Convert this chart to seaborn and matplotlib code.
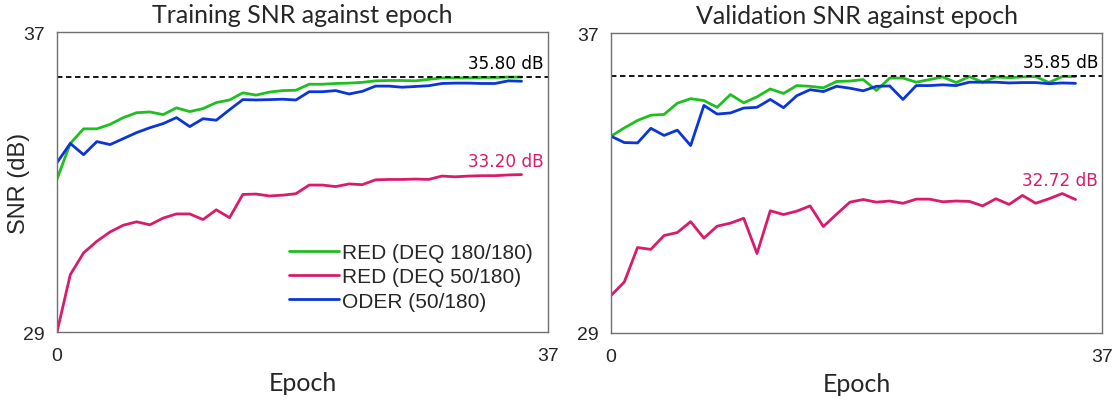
import numpy as np
import pandas as pd
import matplotlib
matplotlib.use("Agg")
import matplotlib.pyplot as plt
import seaborn as sns

# --- Data ---
epochs = list(range(36))

train_red180 = [33.08, 34.03, 34.42, 34.42, 34.54, 34.72, 34.85, 34.87, 34.80, 34.98,
                34.88, 34.96, 35.12, 35.19, 35.38, 35.32, 35.40, 35.44, 35.45, 35.61,
                35.61, 35.63, 35.64, 35.66, 35.70, 35.71, 35.71, 35.70, 35.74, 35.78,
                35.78, 35.78, 35.79, 35.79, 35.80, 35.80]
train_red50 = [29.00, 30.53, 31.11, 31.42, 31.67, 31.85, 31.94, 31.86, 32.04, 32.15,
               32.15, 32.00, 32.26, 32.05, 32.67, 32.68, 32.63, 32.65, 32.69, 32.92,
               32.92, 32.88, 32.95, 32.93, 33.06, 33.07, 33.07, 33.08, 33.07, 33.16,
               33.14, 33.16, 33.17, 33.17, 33.19, 33.20]
train_oder = [33.52, 34.03, 33.73, 34.08, 34.00, 34.16, 34.32, 34.45, 34.56, 34.72,
              34.48, 34.69, 34.65, 34.93, 35.20, 35.19, 35.20, 35.21, 35.19, 35.41,
              35.41, 35.44, 35.35, 35.42, 35.56, 35.56, 35.53, 35.55, 35.57, 35.63,
              35.64, 35.64, 35.63, 35.63, 35.70, 35.69]

val_red180 = [34.25, 34.47, 34.67, 34.81, 34.83, 35.13, 35.25, 35.20, 35.02, 35.36,
              35.14, 35.30, 35.51, 35.39, 35.60, 35.58, 35.54, 35.71, 35.72, 35.76,
              35.47, 35.80, 35.80, 35.69, 35.76, 35.83, 35.68, 35.84, 35.69, 35.83,
              35.81, 35.83, 35.84, 35.68, 35.84, 35.84]
val_red50 = [30.00, 30.36, 31.28, 31.23, 31.60, 31.68, 31.97, 31.53, 31.85, 31.93,
             32.06, 31.12, 32.26, 32.16, 32.25, 32.39, 31.84, 32.17, 32.49, 32.56,
             32.49, 32.52, 32.46, 32.57, 32.57, 32.50, 32.52, 32.51, 32.39, 32.58,
             32.43, 32.67, 32.46, 32.58, 32.72, 32.56]
val_oder = [34.25, 34.08, 34.07, 34.46, 34.27, 34.41, 34.00, 35.07, 34.84, 34.87,
            35.00, 35.02, 35.23, 35.01, 35.33, 35.49, 35.44, 35.58, 35.53, 35.46,
            35.58, 35.59, 35.23, 35.60, 35.60, 35.62, 35.60, 35.69, 35.69, 35.69,
            35.67, 35.68, 35.68, 35.65, 35.67, 35.66]

labels = ["RED (DEQ 180/180)", "RED (DEQ 50/180)", "ODER (50/180)"]
colors = ["#1fbf1f", "#d81b6a", "#0b35d6"]

ref_train, ref_val = 35.80, 35.85
end_train, end_val = 33.20, 32.72


def to_long(series):
    rows = []
    for name, vals in zip(labels, series):
        rows += [(e, v, name) for e, v in zip(epochs, vals)]
    return pd.DataFrame(rows, columns=["Epoch", "SNR", "Model"])


df_train = to_long([train_red180, train_red50, train_oder])
df_val = to_long([val_red180, val_red50, val_oder])

sns.set_style("white")
plt.rcParams["font.family"] = ["Liberation Sans", "DejaVu Sans"]

fig = plt.figure(figsize=(11.16, 4.02), dpi=100)
ax1 = fig.add_axes([0.0511, 0.1716, 0.440, 0.746])
ax2 = fig.add_axes([0.5475, 0.1692, 0.440, 0.746])

palette = dict(zip(labels, colors))
title_font = dict(family=["Lato", "DejaVu Sans"], size=18)
note_font = dict(family=["DejaVu Sans"], size=12.2)

for ax, df, title, ref, end in [(ax1, df_train, "Training SNR against epoch", ref_train, end_train),
                                (ax2, df_val, "Validation SNR against epoch", ref_val, end_val)]:
    sns.lineplot(data=df, x="Epoch", y="SNR", hue="Model", palette=palette,
                 linewidth=2.0, ax=ax, legend=(ax is ax1))
    ax.axhline(ref, color="black", linestyle=(0, (3, 2)), linewidth=1.3)
    ax.text(36.7, ref + 0.13, f"{ref:.2f} dB", ha="right", va="bottom", color="black", **note_font)
    ax.text(36.7, end + 0.13, f"{end:.2f} dB", ha="right", va="bottom", color=colors[1], **note_font)
    ax.set_xlim(0, 37)
    ax.set_ylim(29, 37)
    ax.set_xticks([0, 37])
    ax.set_yticks([29, 37])
    ax.tick_params(axis="both", length=0, labelsize=14)
    ax.tick_params(axis="x", pad=11)
    ax.tick_params(axis="y", pad=9)
    ax.set_title(title, pad=7, **title_font)
    ax.set_xlabel("Epoch", labelpad=5, **title_font)
    ax.set_ylabel("")
    for sp in ax.spines.values():
        sp.set_color("#707070")
        sp.set_linewidth(1.0)

ax1.set_ylabel("SNR (dB)", fontsize=17, labelpad=-5)
leg = ax1.legend(loc="lower right", bbox_to_anchor=(0.995, 0.03), frameon=False,
                 fontsize=15, handlelength=2.4, handletextpad=0.15, labelspacing=0.25,
                 borderaxespad=0.2)
for line in leg.get_lines():
    line.set_linewidth(2.0)

plt.savefig("out.png", dpi=100)
